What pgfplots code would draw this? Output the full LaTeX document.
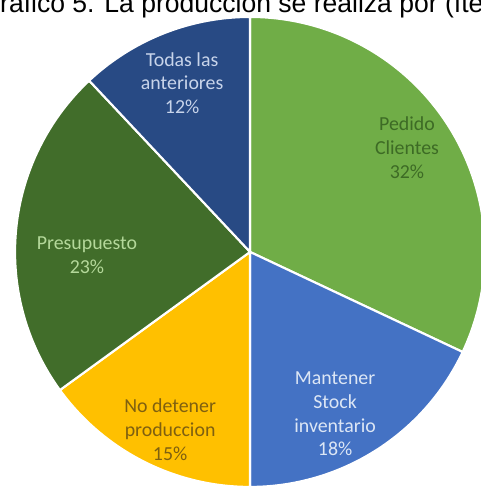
\documentclass[border=0pt]{standalone}
\usepackage{pgfplots}
\pgfplotsset{compat=1.18}
\usepackage{pgfplotstable}
\usepackage{fontspec}
\setmainfont{Carlito}
\newfontfamily\arial{Liberation Sans}
\definecolor{cPed}{HTML}{70AD47}
\definecolor{cMan}{HTML}{4472C4}
\definecolor{cNod}{HTML}{FFC000}
\definecolor{cPre}{HTML}{416D2A}
\definecolor{cTod}{HTML}{284A84}
\definecolor{tPed}{HTML}{3D6B25}
\definecolor{tMan}{HTML}{DCE6F5}
\definecolor{tNod}{HTML}{7F6010}
\definecolor{tPre}{HTML}{B4D89A}
\definecolor{tTod}{HTML}{C8D4EA}
% percentages, clockwise from the top
\pgfplotstableread{
label value
Pedido 32
Mantener 18
Nodetener 15
Presupuesto 23
Todas 12
}\piedata
\begin{document}
\begin{tikzpicture}
\useasboundingbox (0,0) rectangle (360.75pt,364.5pt);
\clip (0,0) rectangle (360.75pt,364.5pt);
\begin{axis}[
  at={(0,0)}, anchor=south west,
  x=176.25pt, y=176.25pt,
  xmin=-1.064, xmax=0.983, ymin=-0.996, ymax=1.072,
  hide axis, clip=false,
  every axis plot/.append style={draw=white, line width=1.6pt, line join=round},
]
% slices: angle = 90 - 3.6*(cumulative percent)
\addplot[fill=cPed, data cs=polar, domain={90-3.6*32}:90, samples=90] {1} -- (axis cs:0,0) -- cycle;
\addplot[fill=cMan, data cs=polar, domain={90-3.6*50}:{90-3.6*32}, samples=60] {1} -- (axis cs:0,0) -- cycle;
\addplot[fill=cNod, data cs=polar, domain={90-3.6*65}:{90-3.6*50}, samples=60] {1} -- (axis cs:0,0) -- cycle;
\addplot[fill=cPre, data cs=polar, domain={90-3.6*88}:{90-3.6*65}, samples=70] {1} -- (axis cs:0,0) -- cycle;
\addplot[fill=cTod, data cs=polar, domain={90-3.6*100}:{90-3.6*88}, samples=50] {1} -- (axis cs:0,0) -- cycle;
\begin{scope}[every node/.style={font=\fontsize{14.9pt}{17.8pt}\selectfont, align=center}]
\node[text=tPed] at (axis cs:0.668,0.443) {Pedido\\Clientes\\32\%};
\node[text=tMan] at (axis cs:0.362,-0.689) {Mantener\\Stock\\inventario\\18\%};
\node[text=tNod] at (axis cs:-0.340,-0.757) {No detener\\produccion\\15\%};
\node[text=tPre] at (axis cs:-0.694,-0.013) {Presupuesto\\23\%};
\node[text=tTod] at (axis cs:-0.289,0.719) {Todas las\\anteriores\\12\%};
\end{scope}
\node[anchor=base west, inner sep=0pt, font=\arial\fontsize{19.9pt}{23pt}\selectfont]
  at (axis cs:-1.152,1.021) {Gráfico 5. La producción se realiza por (ítem};
\end{axis}
\end{tikzpicture}
\end{document}
